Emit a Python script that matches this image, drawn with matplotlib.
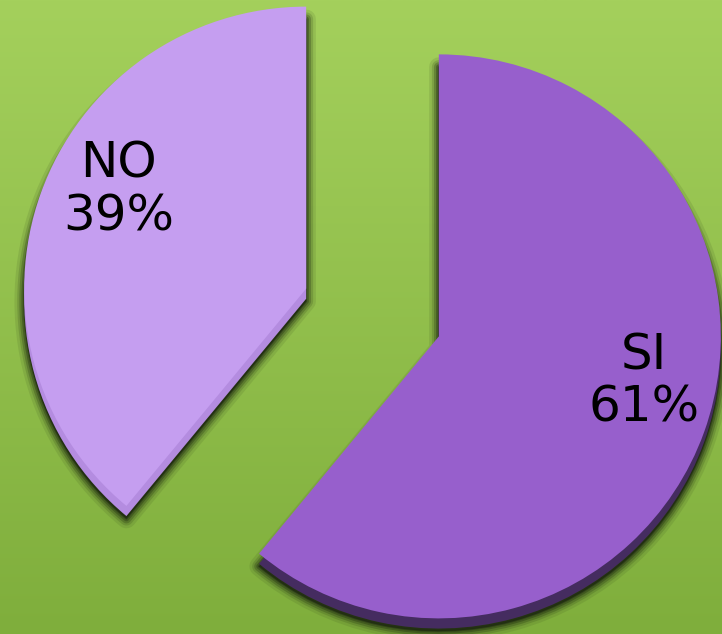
import numpy as np
import matplotlib
matplotlib.use("Agg")
import matplotlib.pyplot as plt

# data
labels = ["SI", "NO"]
values = [61, 39]
colors = ["#975fcc", "#c59ef0"]
side_colors = ["#452c60", "#b48ce0"]
explode = [0.25, 0.25]

fig = plt.figure(figsize=(7.22, 6.34), dpi=100)

# green gradient background
bg = fig.add_axes([0, 0, 1, 1], zorder=-1)
grad = np.linspace(0, 1, 256).reshape(-1, 1)
cmap = matplotlib.colors.LinearSegmentedColormap.from_list("bg", ["#a4d05c", "#7fae3c"])
bg.imshow(grad, aspect="auto", cmap=cmap, extent=[0, 1, 0, 1], origin="upper")
bg.axis("off")

ax = fig.add_axes([0, 0, 1, 1])
ax.patch.set_alpha(0)

# soft drop shadow
for lw, a in [(14, 0.10), (10, 0.16), (7, 0.25), (4, 0.35), (1.5, 0.45)]:
    ax.pie(values, explode=explode, startangle=90, counterclock=False,
           center=(0, -0.045), colors=["#1e2a10", "#1e2a10"],
           wedgeprops=dict(linewidth=lw, edgecolor="#1e2a10", alpha=a, joinstyle="round"))

# slab thickness
ax.pie(values, explode=explode, startangle=90, counterclock=False,
       center=(0, -0.036), colors=side_colors, wedgeprops=dict(linewidth=0))

# top face
wedges, texts, autotexts = ax.pie(values, explode=explode, startangle=90,
                                  counterclock=False, colors=colors,
                                  autopct="%1.0f%%", pctdistance=0.74,
                                  wedgeprops=dict(linewidth=0),
                                  textprops=dict(fontsize=36, color="black"))

nudge = {"SI": (0.03, 0.09), "NO": (0.03, 0.10)}
for lab, t in zip(labels, autotexts):
    t.set_text(lab + "\n" + t.get_text())
    t.set_linespacing(1.12)
    x, y = t.get_position()
    dx, dy = nudge[lab]
    t.set_position((x + dx, y + dy))

s = 282.0
ax.set_xlim(-372.5 / s, (722 - 372.5) / s)
ax.set_ylim(-(634 - 312.5) / s, 312.5 / s)
ax.set_aspect("auto")
ax.axis("off")

fig.savefig("out.png", dpi=100)
